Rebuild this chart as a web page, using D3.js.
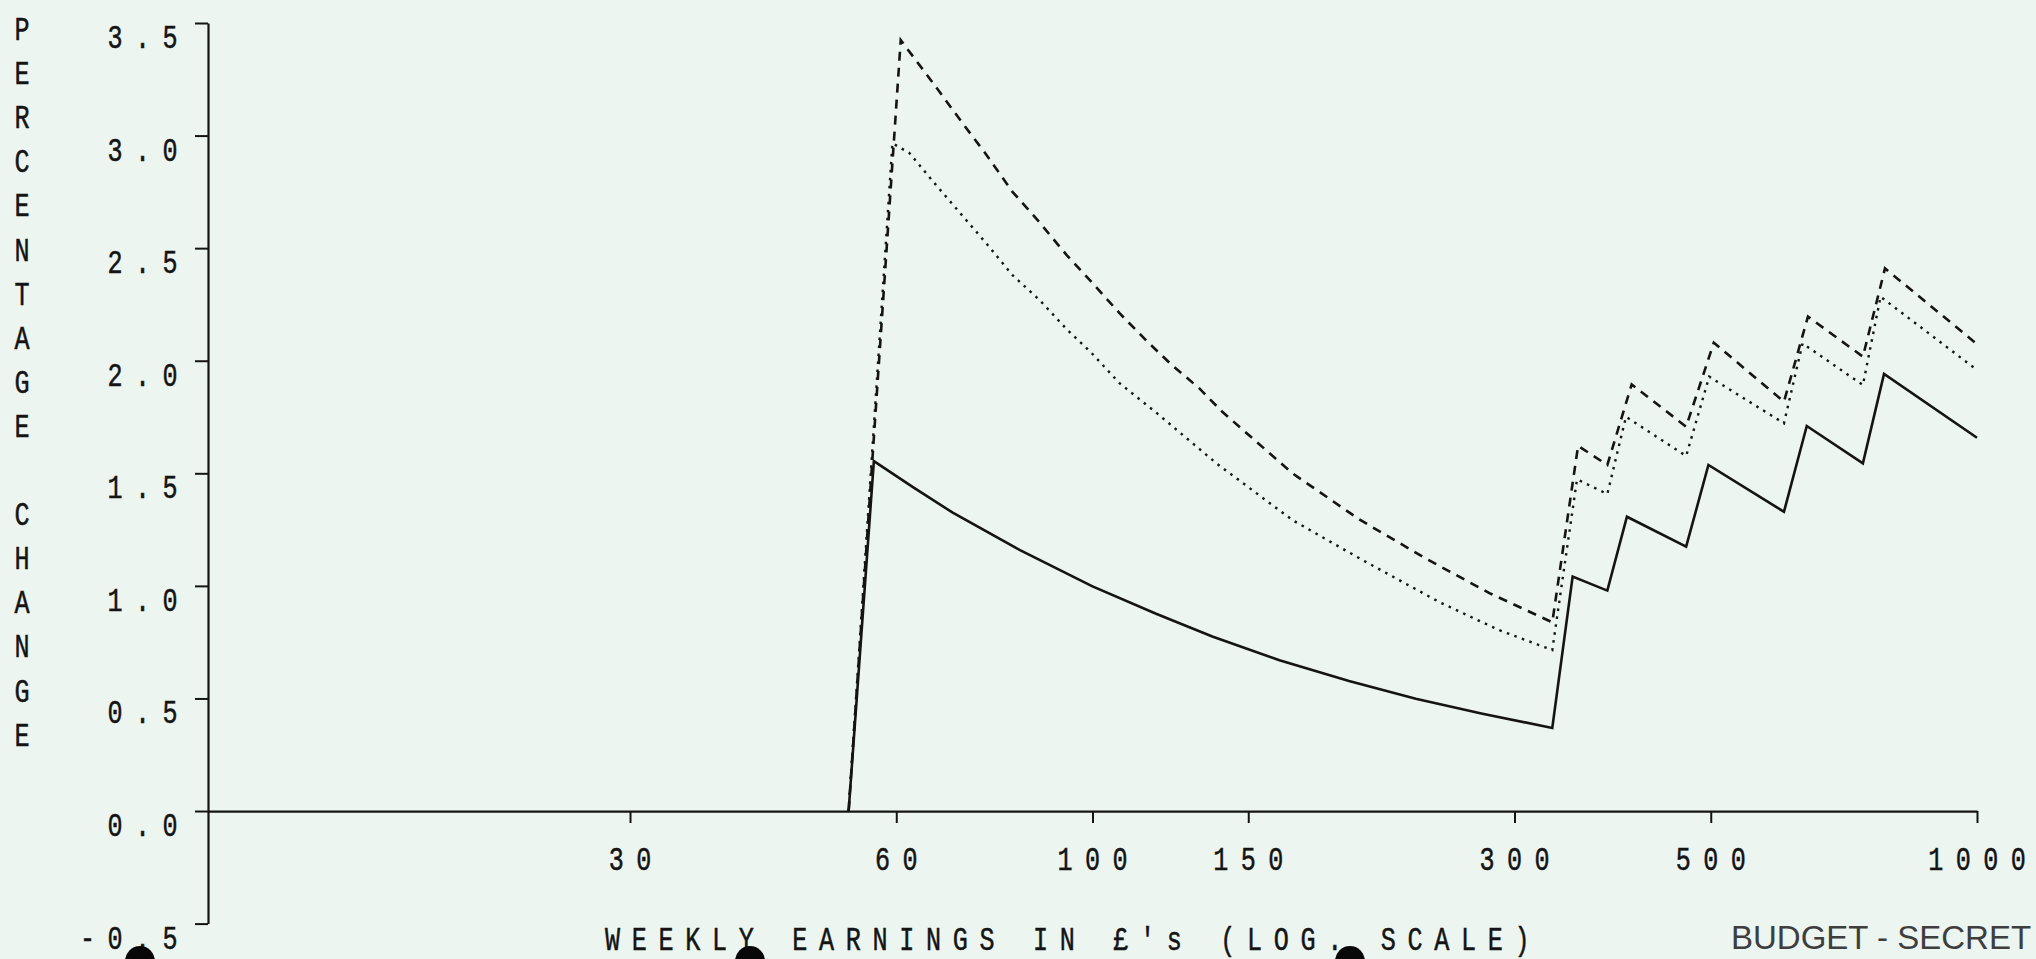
<!DOCTYPE html>
<html>
<head>
<meta charset="utf-8">
<script src="https://cdn.jsdelivr.net/npm/d3@7"></script>
<style>
  html, body { margin: 0; padding: 0; background: #ecf5f0; overflow: hidden; }
  svg { display: block; }
</style>
</head>
<body>
<svg id="chart" width="2036" height="959"></svg>
<script>
// Percentage change by weekly earnings (log scale), three variants.

const earningsTicks = [30, 60, 100, 150, 300, 500, 1000];
const changeTicks = [-0.5, 0, 0.5, 1, 1.5, 2, 2.5, 3, 3.5];
const changeTickLabels = ["-0.5", "0.0", "0.5", "1.0", "1.5", "2.0", "2.5", "3.0", "3.5"];

const earningsSolid = [53, 56.6, 62.6, 69.5, 82.7, 100, 118, 136.6, 162.7, 195, 232, 276, 331,
  349, 382, 402, 469, 497, 605, 642, 743, 785, 1000];
const changeSolid = [0, 1.554, 1.44, 1.325, 1.16, 0.998, 0.876, 0.775, 0.67, 0.578, 0.499, 0.432, 0.369,
  1.041, 0.979, 1.307, 1.174, 1.537, 1.329, 1.71, 1.544, 1.941, 1.658];

const earningsDashed = [53, 60.7, 66.3, 71.3, 75.5, 81.2, 87.1, 93.5, 100, 107.3, 115, 123, 132, 140.3,
  168.3, 200.3, 238.5, 281, 331, 354, 382, 407, 469, 504, 605, 644, 743, 787, 1000];
const changeDashed = [0, 3.424, 3.224, 3.055, 2.926, 2.75, 2.615, 2.469, 2.345, 2.211, 2.09, 1.98, 1.878, 1.772,
  1.5, 1.295, 1.12, 0.968, 0.838, 1.622, 1.537, 1.895, 1.707, 2.08, 1.818, 2.196, 2.018, 2.41, 2.074];

const earningsDotted = [53, 59.4, 62.1, 65.9, 70.7, 75.9, 81.2, 87.1, 93.5, 100, 107.3, 118, 138,
  168.3, 201.9, 246.7, 288, 331, 353, 382, 401, 469, 498, 605, 635, 743, 778, 1000];
const changeDotted = [0, 2.966, 2.922, 2.80, 2.66, 2.52, 2.38, 2.27, 2.14, 2.03, 1.90, 1.77, 1.545,
  1.292, 1.115, 0.928, 0.804, 0.715, 1.473, 1.408, 1.751, 1.577, 1.929, 1.722, 2.077, 1.892, 2.284, 1.959];

const yTitle = "PERCENTAGE CHANGE";
const xTitle = "WEEKLY EARNINGS IN £'s (LOG. SCALE)";
const stamp = "BUDGET - SECRET";

const ink = "#141414";
const svg = d3.select("#chart");

const x = d3.scaleLog().domain([10, 1000]).range([208, 1977]);
const y = d3.scaleLinear().domain([-0.5, 3.5]).range([923.6, 23]);

// Plotter-style lettering: each character sits in a fixed-pitch cell.
const PITCH = 27.5;
function plotterChar(g, ch, cx, baseline) {
  g.append("text")
    .attr("transform", `translate(${cx},${baseline}) scale(0.74,1)`)
    .attr("text-anchor", "middle")
    .attr("font-family", "'Liberation Mono', 'DejaVu Sans Mono', monospace")
    .attr("font-size", 34)
    .attr("fill", ink)
    .attr("stroke", ink)
    .attr("stroke-width", 0.5)
    .text(ch);
}
function plotterString(g, str, firstCx, baseline, pitch) {
  [...str].forEach((ch, i) => {
    if (ch !== " ") plotterChar(g, ch, firstCx + i * pitch, baseline);
  });
}

// Axes
const yAxis = d3.axisLeft(y).tickValues(changeTicks).tickSize(13).tickSizeOuter(0).tickFormat("");
const gy = svg.append("g").attr("transform", `translate(${x.range()[0]},0)`).call(yAxis);
const xAxis = d3.axisBottom(x).tickValues(earningsTicks).tickSize(12).tickSizeOuter(0).tickFormat("");
const gx = svg.append("g").attr("transform", `translate(0,${y(0)})`).call(xAxis);
[gx, gy].forEach(g => {
  g.select(".domain").attr("stroke", ink).attr("stroke-width", 2.2);
  g.selectAll(".tick line").attr("stroke", ink).attr("stroke-width", 2);
});

// Y tick labels, right-aligned in the character grid, hanging just below each tick
const labels = svg.append("g");
changeTicks.forEach((v, i) => {
  const s = changeTickLabels[i];
  const lastCx = 170;
  plotterString(labels, s, lastCx - (s.length - 1) * PITCH, y(v) + 25, PITCH);
});

// X tick labels, centred under each tick
earningsTicks.forEach(v => {
  const s = String(v);
  plotterString(labels, s, x(v) - (s.length - 1) * PITCH / 2, 870, PITCH);
});

// Axis titles
[...yTitle].forEach((ch, i) => {
  if (ch !== " ") plotterChar(labels, ch, 22, 40 + i * 44.1);
});
plotterString(labels, xTitle, 612.5, 950, 26.75);

// Series
const line = d3.line().x(d => x(d[0])).y(d => y(d[1]));
const zipped = (xs, ys) => xs.map((e, i) => [e, ys[i]]);

svg.append("path")
  .datum(zipped(earningsDotted, changeDotted))
  .attr("d", line)
  .attr("fill", "none")
  .attr("stroke", ink)
  .attr("stroke-width", 2.4)
  .attr("stroke-dasharray", "2.5,5.5");

svg.append("path")
  .datum(zipped(earningsDashed, changeDashed))
  .attr("d", line)
  .attr("fill", "none")
  .attr("stroke", ink)
  .attr("stroke-width", 2.6)
  .attr("stroke-dasharray", "9,7");

svg.append("path")
  .datum(zipped(earningsSolid, changeSolid))
  .attr("d", line)
  .attr("fill", "none")
  .attr("stroke", ink)
  .attr("stroke-width", 2.6)
  .attr("stroke-linejoin", "miter");

// Classification stamp along the foot of the sheet
svg.append("text")
  .attr("x", 1731)
  .attr("y", 949)
  .attr("font-family", "'Liberation Sans', Arial, sans-serif")
  .attr("font-size", 33)
  .attr("fill", "#3e3e3e")
  .text(stamp);

// Binder punch holes
const holeX = [140, 750, 1350];
svg.selectAll("circle.hole")
  .data(holeX)
  .join("circle")
  .attr("class", "hole")
  .attr("cx", d => d)
  .attr("cy", 961)
  .attr("r", 15)
  .attr("fill", "#080808");
</script>
</body>
</html>
